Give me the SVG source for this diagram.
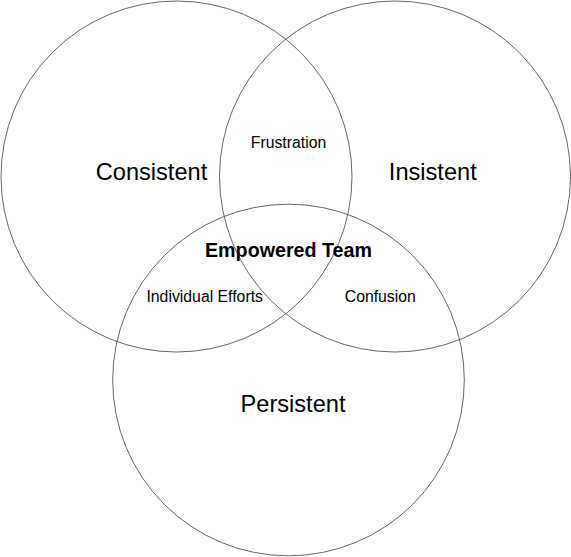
<svg xmlns="http://www.w3.org/2000/svg" width="571" height="557" viewBox="0 0 571 557">
<style>
.c{fill:none;stroke:#666;stroke-width:1}
text{font-family:"Liberation Sans",Arial,sans-serif;fill:#000;text-anchor:middle}
.big{font-size:23.6px}
.mid{font-size:19.7px;font-weight:bold}
.sm{font-size:15.8px}
</style>
<rect width="571" height="557" fill="#fff"/>
<g id="consistent"><circle class="c" cx="176.5" cy="176.5" r="175.5"/><text class="big" x="151.5" y="180">Consistent</text></g>
<g id="insistent"><circle class="c" cx="395" cy="176.5" r="175.5"/><text class="big" x="432.8" y="180">Insistent</text></g>
<g id="persistent"><circle class="c" cx="288.5" cy="380" r="175.8"/><text class="big" x="293" y="412">Persistent</text></g>
<g id="frustration"><text class="sm" x="288.5" y="148">Frustration</text></g>
<g id="empowered"><text class="mid" x="288.5" y="256.7">Empowered Team</text></g>
<g id="individual"><text class="sm" x="204.7" y="301.7">Individual Efforts</text></g>
<g id="confusion"><text class="sm" x="380.3" y="301.7">Confusion</text></g>
<g id="connectors"></g>
</svg>
